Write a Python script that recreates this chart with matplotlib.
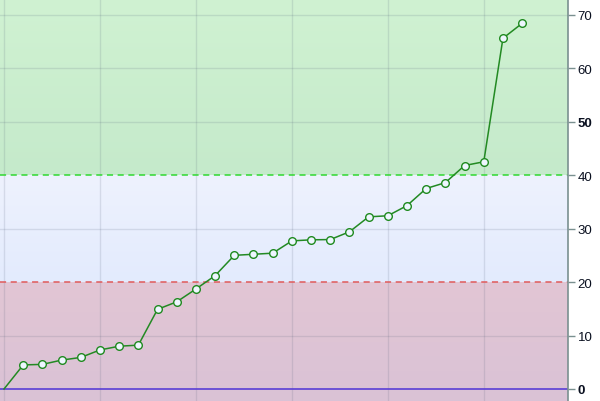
import numpy as np
import matplotlib
matplotlib.use("Agg")
import matplotlib.pyplot as plt
from matplotlib.colors import LinearSegmentedColormap

# values, one point per step
values = [0, 4.5, 4.6, 5.4, 5.9, 7.3, 8.0, 8.2, 14.9, 16.3, 18.7, 21.2, 25.0, 25.2,
          25.4, 27.7, 27.9, 27.95, 29.4, 32.2, 32.4, 34.3, 37.5, 38.6, 41.8, 42.5,
          65.6, 68.4]
yticks = [0, 10, 20, 30, 40, 50, 60, 70]
bold_ticks = [0, 50]

# background bands: (low, high, bottom colour, top colour)
bands = [
    (-2.3, 20, '#dac2d6', '#e2c6d4'),
    (20, 40, '#e3ebfd', '#eef2fe'),
    (40, 73, '#c5eacb', '#d0f2d2'),
]

x = np.arange(len(values))
xmin, xmax = -0.21, 29.39
ymin, ymax = -2.25, 72.95

fig = plt.figure(figsize=(6, 4.02), dpi=100)
ax = fig.add_axes([0, 0, 568 / 600, 1])

for lo, hi, c0, c1 in bands:
    cmap = LinearSegmentedColormap.from_list('band', [c0, c1])
    grad = np.linspace(0, 1, 64).reshape(-1, 1)
    ax.imshow(grad, cmap=cmap, origin='lower', aspect='auto',
              extent=[xmin, xmax, lo, hi], zorder=0)

# grid
grid_c = (0.3, 0.35, 0.45, 0.15)
for gx in range(0, 30, 5):
    ax.axvline(gx, color=grid_c, lw=1, zorder=1)
for gy in [10, 30, 50, 60, 70]:
    ax.axhline(gy, color=grid_c, lw=1, zorder=1)

ax.axhline(40, color='#30d830', lw=1.1, ls=(0, (4, 3)), zorder=2)
ax.axhline(20, color='#e05a5a', lw=1.1, ls=(0, (4, 3)), zorder=2)
ax.axhline(0, color='#5a3ed6', lw=1.2, zorder=2)

# first point has no marker in the original
ax.plot(x, values, color='#238a23', lw=1.1, marker='o', markersize=5.5,
        markerfacecolor='#eef6ff', markeredgecolor='#1f8a1f', markeredgewidth=1,
        markevery=list(range(1, len(values))), zorder=3)

ax.set_xlim(xmin, xmax)
ax.set_ylim(ymin, ymax)
ax.set_xticks([])
ax.yaxis.tick_right()
ax.set_yticks(yticks)
ax.set_yticklabels([str(t) for t in yticks])
ax.tick_params(axis='y', length=5, width=1, color='#7a9090', pad=2,
               labelsize=9.5, labelcolor='#0a1020')
for lab, t in zip(ax.get_yticklabels(), yticks):
    lab.set_family(['Liberation Sans', 'DejaVu Sans'])
    if t in bold_ticks:
        lab.set_fontweight('bold')

for side in ['left', 'top', 'bottom']:
    ax.spines[side].set_visible(False)
ax.spines['right'].set_color('#7a9090')
ax.spines['right'].set_linewidth(1.2)

fig.savefig('out.png', dpi=100)
